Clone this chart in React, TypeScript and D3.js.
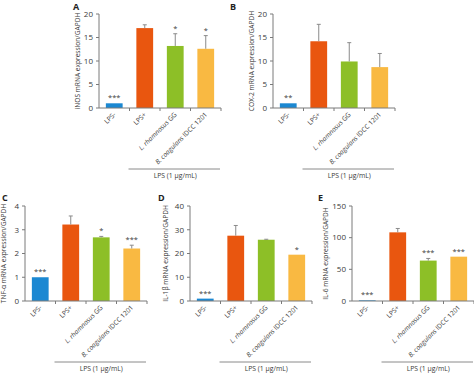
import React from "react";
import * as d3 from "d3";

const categories = ["LPS-", "LPS+", "L. rhamnosus GG", "B. coagulans IDCC 1201"];
const italicParts = ["", "", "L. rhamnosus", "B. coagulans"];
const barColors = ["#1b88d2", "#e9560f", "#8dbf27", "#f9b942"];

const inosValues = [1.0, 17.0, 13.2, 12.6];
const inosErrTop = [1.0, 17.7, 15.8, 15.4];
const inosSig = ["***", "", "*", "*"];
const inosTicks = [0, 5, 10, 15, 20];

const coxValues = [1.0, 14.2, 9.9, 8.7];
const coxErrTop = [1.0, 17.8, 13.9, 11.6];
const coxSig = ["**", "", "", ""];
const coxTicks = [0, 5, 10, 15, 20];

const tnfValues = [1.0, 3.22, 2.68, 2.21];
const tnfErrTop = [1.0, 3.58, 2.72, 2.35];
const tnfSig = ["***", "", "*", "***"];
const tnfTicks = [0, 1, 2, 3, 4];

const il1bValues = [1.0, 27.5, 25.8, 19.5];
const il1bErrTop = [1.0, 31.8, 26.0, 19.5];
const il1bSig = ["***", "", "", "*"];
const il1bTicks = [0, 10, 20, 30, 40];

const il6Values = [1.0, 108.4, 63.8, 70.0];
const il6ErrTop = [1.0, 114.5, 67.2, 70.0];
const il6Sig = ["***", "", "***", "***"];
const il6Ticks = [0, 50, 100, 150];

const bracketLabel = "LPS (1 μg/mL)";

type PanelProps = {
  letter: string;
  letterX: number;
  letterY: number;
  title: string;
  titleX: number;
  x0: number;
  yTop: number;
  yBottom: number;
  values: number[];
  errTop: number[];
  sig: string[];
  ticks: number[];
};

const FONT = "'Open Sans', 'Liberation Sans', Arial, sans-serif";
const AXIS = "#7a7a7a";
const TEXT = "#3a3a3a";

function Panel(p: PanelProps) {
  const width = 122;
  const x = d3.scaleBand<string>().domain(categories).range([p.x0, p.x0 + width]).paddingInner(0.45).paddingOuter(0.225);
  const y = d3.scaleLinear().domain([0, p.ticks[p.ticks.length - 1]]).range([p.yBottom, p.yTop]);
  const band = width / categories.length;
  const bracketY = p.yBottom + 61;
  return (
    <g>
      <text x={p.letterX} y={p.letterY} fontSize={9} fontWeight="bold" fill="#222" fontFamily={FONT}>{p.letter}</text>
      <text
        transform={`translate(${p.titleX},${(p.yTop + p.yBottom) / 2}) rotate(-90)`}
        textAnchor="middle"
        fontSize={6.6}
        fill={TEXT}
        fontFamily={FONT}
      >{p.title}</text>
      {categories.map((c, i) => (
        <rect key={c} x={x(c)} y={y(p.values[i])} width={x.bandwidth()} height={p.yBottom - y(p.values[i])} fill={barColors[i]} />
      ))}
      {categories.map((c, i) => {
        if (p.errTop[i] <= p.values[i]) return null;
        const cx = (x(c) as number) + x.bandwidth() / 2;
        return (
          <g key={"e" + c} stroke="#8a8a8a" strokeWidth={1}>
            <line x1={cx} x2={cx} y1={y(p.values[i])} y2={y(p.errTop[i])} />
            <line x1={cx - 2} x2={cx + 2} y1={y(p.errTop[i])} y2={y(p.errTop[i])} />
          </g>
        );
      })}
      {categories.map((c, i) => {
        if (!p.sig[i]) return null;
        const cx = (x(c) as number) + x.bandwidth() / 2;
        const top = Math.max(p.values[i], p.errTop[i]);
        return (
          <text key={"s" + c} x={cx} y={y(top) - 3} textAnchor="middle" fontSize={7.5} fill={TEXT} fontFamily={FONT}>{p.sig[i]}</text>
        );
      })}
      <line x1={p.x0} x2={p.x0} y1={p.yTop} y2={p.yBottom} stroke={AXIS} strokeWidth={1} />
      {p.ticks.map((t) => (
        <g key={"t" + t}>
          <line x1={p.x0 - 3} x2={p.x0} y1={y(t)} y2={y(t)} stroke={AXIS} strokeWidth={1} />
          <text x={p.x0 - 6} y={y(t) + 2.8} textAnchor="end" fontSize={8} fill={TEXT} fontFamily={FONT}>{t}</text>
        </g>
      ))}
      <line x1={p.x0} x2={p.x0 + width} y1={p.yBottom} y2={p.yBottom} stroke={AXIS} strokeWidth={1} />
      {d3.range(1, categories.length + 1).map((k) => (
        <line key={"xt" + k} x1={p.x0 + k * band} x2={p.x0 + k * band} y1={p.yBottom} y2={p.yBottom + 3} stroke={AXIS} strokeWidth={1} />
      ))}
      {categories.map((c, i) => {
        const cx = (x(c) as number) + x.bandwidth() / 2;
        const it = italicParts[i];
        return (
          <text
            key={"l" + c}
            transform={`translate(${cx + 2},${p.yBottom + 7}) rotate(-45)`}
            textAnchor="end"
            fontSize={6.6}
            fill={TEXT}
            fontFamily={FONT}
          >
            {it ? (
              <>
                <tspan fontStyle="italic">{it}</tspan>
                <tspan>{c.slice(it.length)}</tspan>
              </>
            ) : c}
          </text>
        );
      })}
      <line x1={p.x0 + band - 1} x2={p.x0 + width - 1} y1={bracketY} y2={bracketY} stroke="#8a8a8a" strokeWidth={1} />
      <text x={p.x0 + band + (width - band) / 2} y={bracketY + 9} textAnchor="middle" fontSize={6.8} fill={TEXT} fontFamily={FONT}>{bracketLabel}</text>
    </g>
  );
}

export default function App() {
  return (
    <svg width={474} height={373} style={{ position: "absolute", left: 0, top: 0, background: "#fff" }}>
      <Panel letter="A" letterX={73} letterY={9.5} title="iNOS mRNA expression/GAPDH" titleX={80} x0={99} yTop={14} yBottom={108}
        values={inosValues} errTop={inosErrTop} sig={inosSig} ticks={inosTicks} />
      <Panel letter="B" letterX={230} letterY={9.5} title="COX-2 mRNA expression/GAPDH" titleX={254} x0={273} yTop={14} yBottom={108}
        values={coxValues} errTop={coxErrTop} sig={coxSig} ticks={coxTicks} />
      <Panel letter="C" letterX={2} letterY={201} title="TNF-α mRNA expression/GAPDH" titleX={6} x0={25} yTop={206} yBottom={301}
        values={tnfValues} errTop={tnfErrTop} sig={tnfSig} ticks={tnfTicks} />
      <Panel letter="D" letterX={158} letterY={201} title="IL-1β mRNA expression/GAPDH" titleX={168} x0={190} yTop={206} yBottom={301}
        values={il1bValues} errTop={il1bErrTop} sig={il1bSig} ticks={il1bTicks} />
      <Panel letter="E" letterX={318} letterY={201} title="IL-6 mRNA expression/GAPDH" titleX={328} x0={352} yTop={206} yBottom={301}
        values={il6Values} errTop={il6ErrTop} sig={il6Sig} ticks={il6Ticks} />
    </svg>
  );
}
